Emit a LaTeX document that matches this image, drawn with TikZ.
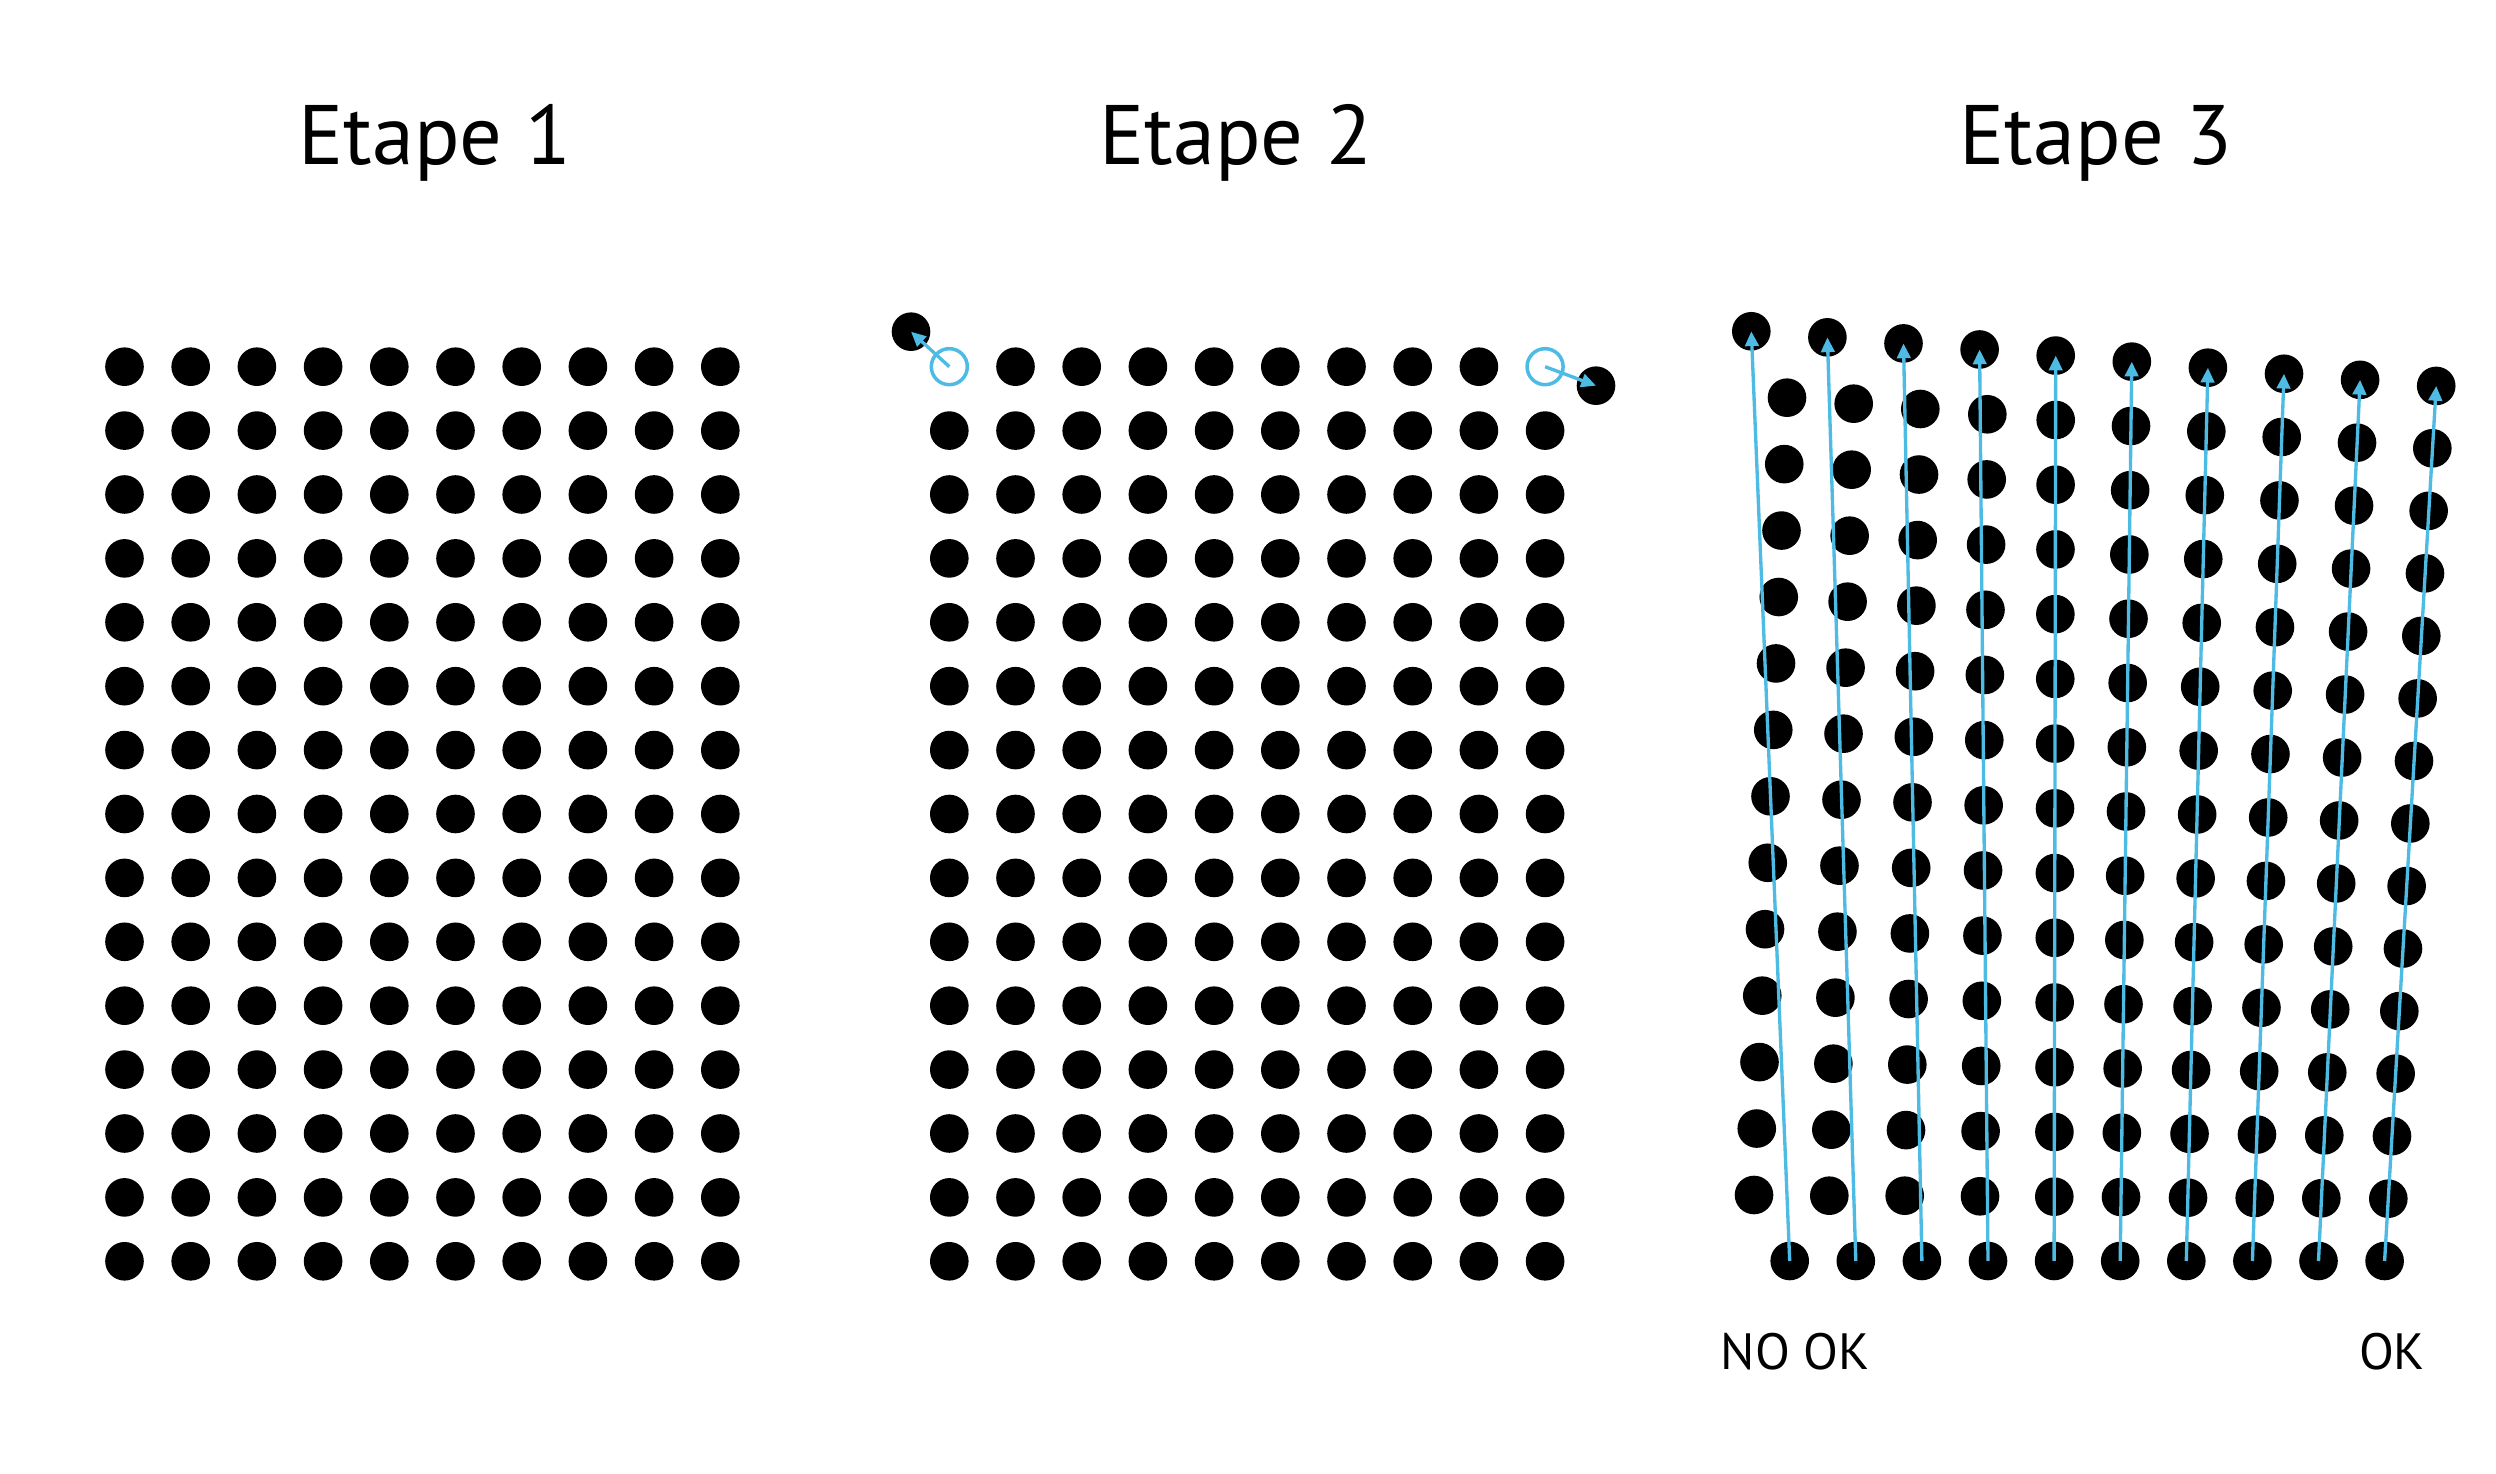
\documentclass[tikz,border=0pt]{standalone}
\usepackage{fontspec}
\setmainfont{PT Sans}
\usetikzlibrary{arrows.meta,calc}
\definecolor{lightblue}{RGB}{77,187,227}
\tikzstyle{dot} = [circle, fill=black, inner sep=0pt, minimum size=0.386cm]
\tikzstyle{ghost} = [circle, draw=lightblue, line width=1pt, inner sep=0pt, minimum size=0.36cm]
\tikzstyle{move} = [lightblue, line width=0.95pt, -{Triangle[length=4.2pt,width=3.8pt]}]
\tikzstyle{title} = [font=\fontsize{24}{28}\selectfont, anchor=base, inner sep=0pt]
\tikzstyle{verdict} = [font=\fontsize{14.5}{17}\selectfont, inner sep=0pt]

\begin{document}
\begin{tikzpicture}[x=0.01cm, y=-0.01cm]
\useasboundingbox (0,0) rectangle (2496,1474);

% Etape 1
\node[title] (t1) at (434.7,165) {Etape 1};
\foreach \i in {0,...,14}
	\foreach \j in {0,...,9}
		\node[dot] (a-\i-\j) at (124.5+66.2*\j, 366.7+63.9*\i) {};

% Etape 2
\node[title] (t2) at (1236,165) {Etape 2};
\foreach \i in {1,...,14}
	\foreach \j in {0,...,9}
		\node[dot] (b-\i-\j) at (949.3+66.2*\j, 366.7+63.9*\i) {};
\foreach \j in {1,...,8}
	\node[dot] (b-0-\j) at (949.3+66.2*\j, 366.7) {};
\node[ghost] (g1) at (949.3,366.7) {};
\node[ghost] (g2) at (1545.1,366.7) {};
\node[dot] (m1) at (911,331.7) {};
\node[dot] (m2) at (1596,385.7) {};
\draw[move] (g1.center) -- (m1.center);
\draw[move] (g2.center) -- (m2.center);

% Etape 3
\node[title] (t3) at (2096,165) {Etape 3};
\foreach \j in {0,...,9}
{
	\node[dot] (c-0-\j) at (1751.3+76.1*\j, 331.3+6.07*\j) {};
	\node[dot] (c-14-\j) at (1789.7+66.1*\j, 1261) {};
}
\foreach \j/\xa/\ya/\xb/\yb in {0/1787/397.7/1754/1195, 1/1853.7/403.7/1829.3/1195.7,
	2/1920.3/409/1904.7/1195.7, 3/1987.3/414.3/1980/1196.3, 4/2055.7/420/2054.3/1196.7,
	5/2131/426/2121/1197, 6/2206.3/431.3/2188/1197.7, 7/2281.7/437/2254.7/1198,
	8/2357/442.7/2321.3/1198.3, 9/2432.3/448.3/2388.3/1198.7}
{
	\foreach \i in {1,...,13}
		\node[dot] (c-\i-\j) at ($(\xa,\ya)!{(\i-1)/12}!(\xb,\yb)$) {};
}
\foreach \j in {0,...,9}
{
	\draw[move] (c-14-\j.center) -- (c-0-\j.center);
}

\node[verdict, anchor=base west] (nok) at (1720,1370) {NO OK};
\node[verdict, anchor=base] (ok) at (2392,1370) {OK};

\end{tikzpicture}
\end{document}
